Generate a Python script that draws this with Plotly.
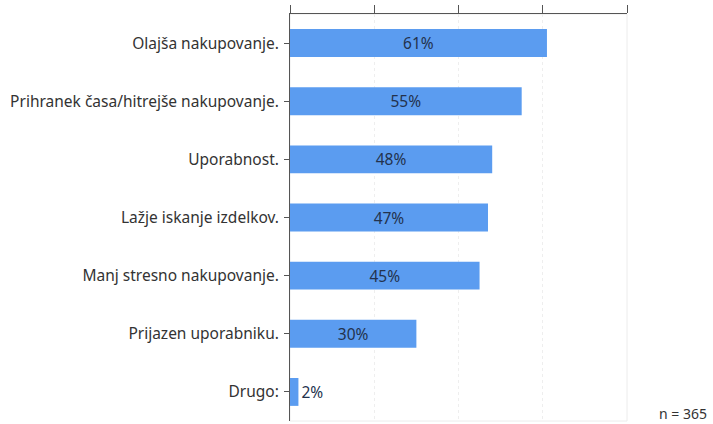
import plotly.graph_objects as go

categories = [
    "Olajša nakupovanje.",
    "Prihranek časa/hitrejše nakupovanje.",
    "Uporabnost.",
    "Lažje iskanje izdelkov.",
    "Manj stresno nakupovanje.",
    "Prijazen uporabniku.",
    "Drugo:",
]
values = [61, 55, 48, 47, 45, 30, 2]
labels = [f"{v}%" for v in values]
sample_note = "n = 365"

FONT = "Noto Sans"

fig = go.Figure(
    go.Bar(
        x=values,
        y=categories,
        orientation="h",
        text=labels,
        textposition="auto",
        insidetextanchor="middle",
        constraintext="none",
        textfont=dict(family=FONT, size=15.5, color="#23324d"),
        marker=dict(color="#5b9cf0", line=dict(width=0)),
        width=0.48,
        cliponaxis=False,
        hoverinfo="skip",
    )
)

fig.update_layout(
    width=713,
    height=424,
    margin=dict(l=290, r=86, t=14, b=3),
    paper_bgcolor="white",
    plot_bgcolor="white",
    showlegend=False,
    font=dict(family=FONT, size=15.5, color="#333333"),
    xaxis=dict(
        range=[0, 80],
        dtick=20,
        side="top",
        showticklabels=False,
        ticks="outside",
        ticklen=8,
        tickcolor="#555555",
        showline=True,
        linecolor="#555555",
        linewidth=1,
        showgrid=True,
        gridcolor="#eeeeee",
        griddash="dot",
        zeroline=False,
        fixedrange=True,
    ),
    yaxis=dict(
        categoryorder="array",
        categoryarray=categories,
        autorange="reversed",
        ticks="outside",
        ticklen=5,
        tickcolor="#555555",
        showline=True,
        linecolor="#555555",
        linewidth=1,
        showgrid=False,
        tickfont=dict(family=FONT, size=15.5, color="#333333"),
        ticklabelstandoff=2,
        fixedrange=True,
    ),
    shapes=[
        dict(
            type="rect", xref="paper", yref="paper",
            x0=0, x1=1, y0=0, y1=1,
            line=dict(color="#ececec", width=1),
            layer="below",
        )
    ],
    annotations=[
        dict(
            text=sample_note,
            xref="paper", yref="paper",
            x=1.0, y=0.0,
            xshift=82, yshift=8,
            xanchor="right", yanchor="middle",
            showarrow=False,
            font=dict(family=FONT, size=14, color="#333333"),
        )
    ],
)

fig.write_html("out.html")
